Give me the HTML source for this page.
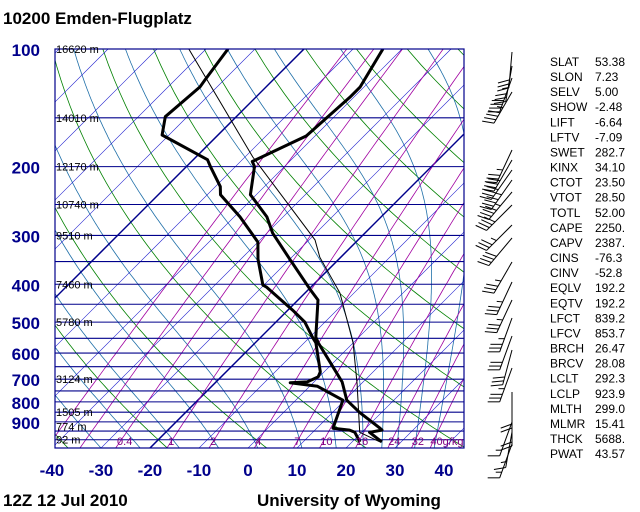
<!DOCTYPE html>
<html><head><meta charset="utf-8"><style>
html,body{margin:0;padding:0;background:#fff;}
svg{display:block;font-family:"Liberation Sans",sans-serif;}
</style></head><body>
<svg id="chart" width="640" height="512" viewBox="0 0 640 512" xmlns="http://www.w3.org/2000/svg">
<defs><clipPath id="plotclip"><rect x="55" y="49" width="409" height="399"/></clipPath></defs>
<rect x="0" y="0" width="640" height="512" fill="#fff"/>
<text x="3" y="24" font-size="17" font-weight="bold" fill="#000">10200  Emden-Flugplatz</text>
<text x="3" y="506" font-size="17" font-weight="bold" fill="#000">12Z 12 Jul 2010</text>
<text x="257" y="506" font-size="17" font-weight="bold" fill="#000">University of Wyoming</text>
<g id="grid" clip-path="url(#plotclip)"></g>
<g id="profiles" clip-path="url(#plotclip)"></g>
<rect x="55" y="49" width="409" height="399" fill="none" stroke="#00008b" stroke-width="1.2"/>
<g id="labels"></g>
<g id="barbs"></g>
<g id="stats"></g>
</svg>
<script>
// ---- data ----
const pressureLabels = [100,200,300,400,500,600,700,800,900];
const tempTicks = [-40,-30,-20,-10,0,10,20,30,40];
const heightLevels = [100,150,200,250,300,400,500,700,850,925,1000];
const heightLabels = ["16620 m","14010 m","12170 m","10740 m","9510 m","7460 m","5780 m","3124 m","1505 m","774 m","92 m"];
const tempP = [100,125,133,167,194,200,236,269,296,345,413,439,546,565,635,711,724,792,851,934,945,957,1013];
const tempT = [-53.9,-50.8,-50.8,-51.8,-57.6,-56.1,-51.2,-43.3,-38.8,-30,-19.6,-15.9,-8.8,-7.1,-0.6,5.7,6.5,10.4,15.5,22.9,23.7,21.6,26.1];
const dewP = [100,120,125,149,166,192,200,225,236,269,312,345,402,407,466,500,549,565,670,690,711,715,730,792,934,945,957,1013];
const dewT = [-85.5,-83.9,-83.5,-84.5,-81.4,-67.1,-65.1,-59,-57.3,-48.8,-40,-36.5,-30.2,-29,-19,-14.1,-9.2,-7.6,-0.8,-0.2,-1.4,-4.7,1.6,9.6,13.3,17.1,18.6,21.6];
const parcelP = [100,189,308,341,421,565,720,957,1013];
const parcelT = [-93.5,-58.4,-28.8,-24.3,-12.9,0,9.2,19.6,25.7];
const mixRatios = [0.1,0.2,0.4,1,2,4,7,10,16,24,32,40];
const mixLabels = ["","","0.4","1","2","4","7","10","16","24","32","40g/kg"];
const moistStartT = [-30,-22,-14,-6,2,11,18,23.5,27.3,30.4,34,38];
const barbY = [52,66,78,92,150,160,170,180,192,205,225,238,262,282,300,318,336,350,368,392,410,422,432,444];
const barbDir = [185,190,200,210,205,210,215,215,220,225,225,220,210,205,205,200,200,195,200,180,180,200,190,200];
const barbKt = [30,35,40,45,35,40,40,45,45,40,35,40,35,35,35,35,30,30,35,20,20,15,15,15];
const statNames = ["SLAT","SLON","SELV","SHOW","LIFT","LFTV","SWET","KINX","CTOT","VTOT","TOTL","CAPE","CAPV","CINS","CINV","EQLV","EQTV","LFCT","LFCV","BRCH","BRCV","LCLT","LCLP","MLTH","MLMR","THCK","PWAT"];
const statVals = ["53.38","7.23","5.00","-2.48","-6.64","-7.09","282.7","34.10","23.50","28.50","52.00","2250.","2387.","-76.3","-52.8","192.2","192.2","839.2","853.7","26.47","28.08","292.3","923.9","299.0","15.41","5688.","43.57"];

// ---- axes ----
const NS="http://www.w3.org/2000/svg";
function yP(p){return 49+169.7*Math.log(p/100);}
function xT(T,p){const y=yP(p);return 248+4.9*T+(448-y);}
function mk(tag,attrs,parent){const e=document.createElementNS(NS,tag);for(const k in attrs)e.setAttribute(k,attrs[k]);parent.appendChild(e);return e;}
const grid=document.getElementById('grid'),prof=document.getElementById('profiles'),lab=document.getElementById('labels'),barbs=document.getElementById('barbs'),stats=document.getElementById('stats');
function pathFrom(ps,ts){return ps.map((p,i)=>(i?'L':'M')+xT(ts[i],p).toFixed(1)+' '+yP(p).toFixed(1)).join(' ');}
const pGrid=[];for(let p=100;p<=1050;p+=10)pGrid.push(p);

// dry adiabats
for(let th=-80;th<=220;th+=20){
  const ts=pGrid.map(p=>(th+273.15)*Math.pow(p/1000,0.286)-273.15);
  const e=mk('path',{d:pathFrom(pGrid,ts),fill:'none',stroke:'#008000','stroke-width':'0.8'},grid);
  
  
}
// moist adiabats
function es(T){return 6.112*Math.exp(17.67*T/(T+243.5));}
moistStartT.forEach(t0=>{
  let T=t0,lp=Math.log(1050);const ps=[1050],ts=[t0];
  const lend=Math.log(100),n=200,dl=(lend-lp)/n;
  for(let i=0;i<n;i++){
    const p=Math.exp(lp),Tk=T+273.15,e=es(T),rs=0.622*e/Math.max(p-e,1);
    const g=(287*Tk+2.5e6*rs)/(1005+2.5e6*2.5e6*rs*0.622/(287*Tk*Tk));
    T+=g*dl;lp+=dl;ps.push(Math.exp(lp));ts.push(T);
  }
  const e=mk('path',{d:pathFrom(ps,ts),fill:'none',stroke:'#1f6fa8','stroke-width':'0.8'},grid);
  
  
});
// isotherms
for(let T=-140;T<=40;T+=10){
  const thick=(T===-20||T===-70);
  const e=mk('line',{x1:xT(T,1050),y1:yP(1050),x2:xT(T,100),y2:yP(100),stroke:thick?'#00008b':'#1a1acd','stroke-width':thick?'1.5':'0.6'},grid);
  
  
}
// mixing ratio lines
function tdFromW(w,p){const e=w*p/(622+w);const l=Math.log(e/6.112);return 243.5*l/(17.67-l);}
mixRatios.forEach((w,i)=>{
  const ts=pGrid.map(p=>tdFromW(w,p));
  const e=mk('path',{d:pathFrom(pGrid,ts),fill:'none',stroke:'#a000a0','stroke-width':'0.8'},grid);
  
  
  if(mixLabels[i]){
    const t=mk('text',{x:xT(tdFromW(w,1020),1020)-2,y:445,'font-size':'11',fill:'#800080'},lab);
    t.textContent=mixLabels[i];
    
    
  }
});
// isobars
for(let p=100;p<=1050;p+=50){
  const e=mk('line',{x1:55,y1:yP(p),x2:464,y2:yP(p),stroke:'#00008b','stroke-width':'1.1'},grid);
  
  
}
// profiles
const pl=mk('path',{d:pathFrom(parcelP,parcelT),fill:'none',stroke:'#000','stroke-width':'1'},prof);


const dl=mk('path',{d:pathFrom(dewP,dewT),fill:'none',stroke:'#000','stroke-width':'3','stroke-linejoin':'round'},prof);


const tl=mk('path',{d:pathFrom(tempP,tempT),fill:'none',stroke:'#000','stroke-width':'3','stroke-linejoin':'round'},prof);


// height labels
heightLevels.forEach((p,i)=>{
  const t=mk('text',{x:56,y:yP(p)+4,'font-size':'11',fill:'#000'},lab);
  t.textContent=heightLabels[i];
  
  
});
// pressure labels
pressureLabels.forEach(p=>{
  const t=mk('text',{x:40,y:yP(p)+7,'font-size':'17','font-weight':'bold',fill:'#00008b','text-anchor':'end'},lab);
  t.textContent=p;
  
  
});
// temperature labels
tempTicks.forEach(T=>{
  const t=mk('text',{x:xT(T,1050),y:476,'font-size':'17','font-weight':'bold',fill:'#00008b','text-anchor':'middle'},lab);
  t.textContent=T;
  
  
});
// wind barbs
barbY.forEach((y,i)=>{
  const a=barbDir[i]*Math.PI/180,ux=Math.sin(a),uy=-Math.cos(a);
  const ox=512,L=36,ex=ox+ux*L,ey=y+uy*L;
  const g=mk('g',{stroke:'#000','stroke-width':'1',fill:'none'},barbs);
  
  
  mk('line',{x1:ox,y1:y,x2:ex,y2:ey},g);
  const b=a+70*Math.PI/180,bx=Math.sin(b),by=-Math.cos(b);
  let kt=barbKt[i],k=0;
  while(kt>=10){const px=ex-ux*k*4,py=ey-uy*k*4;mk('line',{x1:px,y1:py,x2:px+bx*12,y2:py+by*12},g);kt-=10;k++;}
  if(kt>=5){const px=ex-ux*(k+0.5)*4,py=ey-uy*(k+0.5)*4;mk('line',{x1:px,y1:py,x2:px+bx*6,y2:py+by*6},g);}
});
// stats
statNames.forEach((n,i)=>{
  const y=66+i*15.08;
  const a=mk('text',{x:550,y:y,'font-size':'12',fill:'#000'},stats);
  a.textContent=n;
  
  
  const b=mk('text',{x:595,y:y,'font-size':'12',fill:'#000'},stats);
  b.textContent=statVals[i];
  
  
});
</script>
</body></html>
